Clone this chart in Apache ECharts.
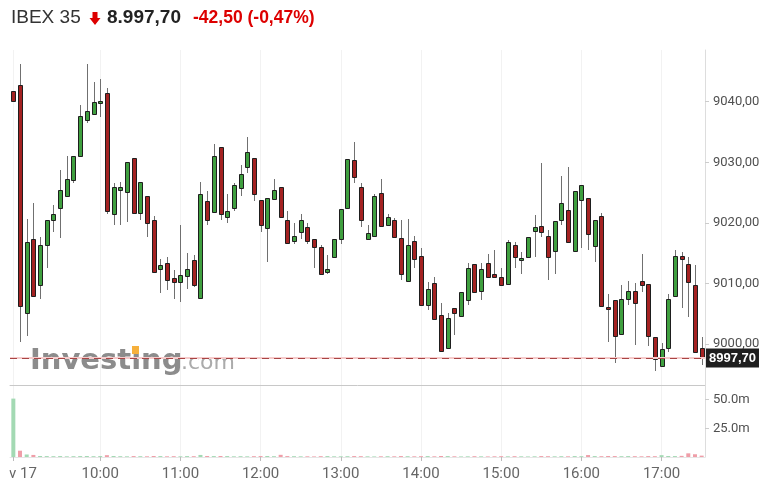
<!DOCTYPE html>
<html>
<head>
<meta charset="utf-8">
<script src="https://cdn.jsdelivr.net/npm/echarts@6.0.0/dist/echarts.min.js"></script>
<style>html,body{margin:0;padding:0;background:#fff}#c{width:778px;height:499px}</style>
</head>
<body>
<div id="c"></div>
<script>
// ---- data ----
const categories = ["08:55",
 "09:00","09:05","09:10","09:15","09:20","09:25","09:30","09:35","09:40","09:45","09:50","09:55",
 "10:00","10:05","10:10","10:15","10:20","10:25","10:30","10:35","10:40","10:45","10:50","10:55",
 "11:00","11:05","11:10","11:15","11:20","11:25","11:30","11:35","11:40","11:45","11:50","11:55",
 "12:00","12:05","12:10","12:15","12:20","12:25","12:30","12:35","12:40","12:45","12:50","12:55",
 "13:00","13:05","13:10","13:15","13:20","13:25","13:30","13:35","13:40","13:45","13:50","13:55",
 "14:00","14:05","14:10","14:15","14:20","14:25","14:30","14:35","14:40","14:45","14:50","14:55",
 "15:00","15:05","15:10","15:15","15:20","15:25","15:30","15:35","15:40","15:45","15:50","15:55",
 "16:00","16:05","16:10","16:15","16:20","16:25","16:30","16:35","16:40","16:45","16:50","16:55",
 "17:00","17:05","17:10","17:15","17:20","17:25","17:30"];

const opens = [9041.8,9042.8,9005.2,9017.3,9009.8,9016.4,9020.5,9022.4,9024.4,9027.1,
 9031.0,9037.0,9038.0,9039.8,9041.4,9021.5,9025.5,9025.1,9030.7,9021.7,
 9024.5,9020.4,9012.3,9013.4,9010.9,9010.3,9011.3,9013.8,9007.6,9023.6,
 9021.8,9032.6,9021.0,9022.4,9025.7,9029.2,9030.7,9023.7,9019.1,9024.0,
 9026.0,9020.4,9017.0,9018.5,9019.3,9017.3,9016.0,9011.9,9014.4,9017.4,
 9022.4,9030.3,9026.0,9017.4,9017.9,9024.9,9019.6,9020.4,9017.5,9010.4,
 9017.0,9014.5,9006.5,9010.1,9004.8,8999.3,9006.0,9004.7,9007.2,9013.2,
 9008.8,9013.4,9011.5,9011.1,9009.9,9016.4,9013.8,9014.4,9018.7,9019.5,
 9017.8,9015.4,9020.5,9022.2,9015.4,9023.8,9024.1,9016.2,9021.1,9006.1,
 9007.2,9001.6,9007.5,9008.7,9010.4,9009.9,9001.2,8996.4,8999.3,9008.0,
 9014.5,9013.2,9009.7,8999.4];
const closes = [9040.1,9006.3,9016.9,9008.0,9016.3,9020.4,9021.4,9025.4,9027.2,9031.1,
 9037.6,9038.4,9040.0,9040.1,9022.0,9025.9,9026.0,9030.0,9021.7,9026.7,
 9019.9,9011.9,9013.1,9010.5,9010.3,9011.4,9012.4,9009.7,9024.7,9020.5,
 9031.1,9021.4,9022.0,9026.2,9028.0,9031.7,9024.7,9019.7,9024.1,9025.4,
 9021.0,9016.6,9017.8,9020.4,9017.0,9016.0,9011.5,9012.3,9017.3,9022.3,
 9030.5,9027.6,9020.4,9018.3,9024.4,9019.5,9021.0,9017.7,9011.6,9016.4,
 9014.0,9006.5,9009.1,9004.2,8998.9,9004.3,9005.1,9008.6,9012.6,9008.6,
 9012.4,9011.1,9011.0,9009.7,9016.9,9014.4,9014.2,9017.7,9019.3,9018.5,
 9014.4,9020.3,9023.3,9016.9,9025.3,9026.2,9018.2,9020.5,9006.3,9005.7,
 9001.4,9007.4,9008.7,9006.7,9009.8,9001.4,8997.5,8999.1,9007.4,9014.5,
 9014.0,9010.3,8998.6,8997.7];
const lows = [9040.1,9000.4,9001.4,9008.0,9007.4,9012.6,9018.5,9017.5,9024.4,9026.6,
 9031.0,9036.5,9038.0,9037.4,9021.4,9019.6,9019.6,9020.1,9021.7,9020.4,
 9017.6,9011.9,9008.5,9008.9,9007.5,9007.0,9009.0,9009.4,9007.5,9019.6,
 9021.8,9020.4,9020.0,9022.0,9024.5,9028.3,9023.6,9018.5,9013.6,9024.0,
 9021.0,9016.6,9016.5,9017.4,9016.5,9012.6,9011.5,9011.5,9014.4,9016.5,
 9022.4,9026.6,9019.3,9017.4,9017.9,9019.5,9019.6,9017.7,9010.5,9010.4,
 9012.6,9006.5,9005.6,9004.2,8998.7,8999.3,9001.5,9004.7,9006.4,9008.6,
 9007.2,9011.1,9011.0,9009.7,9009.9,9012.6,9011.5,9014.4,9014.3,9017.6,
 9010.5,9011.6,9019.6,9016.9,9015.4,9015.8,9015.5,9013.5,9006.3,9000.4,
 8996.8,9001.6,9006.5,8999.8,9008.6,8999.6,8995.6,8996.4,8998.7,9008.0,
 9006.0,9004.5,8998.6,8996.5];
const highs = [9041.8,9046.2,9020.7,9023.2,9017.7,9020.4,9022.9,9028.8,9031.0,9031.1,
 9039.5,9046.2,9043.3,9043.8,9042.3,9026.6,9026.7,9030.0,9030.7,9026.7,
 9024.5,9021.1,9014.0,9014.4,9012.2,9019.7,9015.1,9014.7,9026.7,9025.3,
 9033.1,9032.6,9024.8,9026.6,9029.6,9034.1,9030.7,9023.7,9024.1,9027.3,
 9026.0,9022.0,9019.9,9021.4,9020.0,9017.3,9016.3,9014.7,9017.3,9022.3,
 9030.5,9033.3,9026.5,9019.7,9024.7,9027.3,9021.4,9020.8,9020.4,9020.7,
 9017.8,9015.8,9010.3,9011.1,9006.7,9005.1,9006.0,9008.6,9013.3,9013.2,
 9013.3,9014.9,9015.6,9012.5,9017.1,9016.9,9015.2,9017.7,9021.3,9029.9,
 9018.8,9020.3,9027.7,9029.3,9025.3,9026.2,9024.1,9020.5,9021.6,9008.2,
 9007.2,9009.7,9010.4,9010.0,9014.8,9009.9,9001.2,9000.1,9008.2,9015.5,
 9015.2,9014.3,9013.0,9001.2];
const volumes = [51,5.5,2.2,1.8,0.9,0.8,0.7,0.8,0.6,0.7,
 0.8,0.9,0.7,0.8,1.6,0.9,0.7,0.6,0.8,0.7,
 0.6,0.9,0.8,0.6,0.7,0.6,0.8,0.7,1.8,0.9,
 0.8,0.9,0.8,0.6,0.7,0.6,0.7,0.8,0.9,0.7,
 1.9,0.8,0.7,0.6,0.6,0.5,0.7,0.8,0.6,0.6,
 0.7,0.8,0.7,0.6,0.5,0.6,0.7,0.6,0.8,0.7,
 0.6,0.7,0.8,0.6,0.9,0.8,0.6,0.5,0.6,0.7,
 0.6,0.5,0.6,0.7,0.6,0.7,0.6,0.5,0.6,0.8,
 0.7,0.6,0.7,0.6,0.8,0.7,1.7,0.8,0.7,0.9,
 0.8,0.7,0.8,0.7,0.6,0.8,0.7,1.6,0.9,0.8,
 1.0,3.2,2.4,1.2];

const xTickCats  = ["08:55","10:00","11:00","12:00","13:00","14:00","15:00","16:00","17:00"];
const xTickTexts = ["Nov 17","10:00","11:00","12:00","13:00","14:00","15:00","16:00","17:00"];
const priceTicks = [9000, 9010, 9020, 9030, 9040];
const volumeTicks = [25, 50];

const titleName = "IBEX 35";
const titlePrice = "8.997,70";
const titleChange = "-42,50 (-0,47%)";
const lastPrice = closes[closes.length - 1];

// ---- chart ----
const chart = echarts.init(document.getElementById('c'), null, {renderer: 'canvas'});
const isTick = (idx, val) => xTickCats.indexOf(val) >= 0;
const fmtComma = v => v.toFixed(2).replace('.', ',');

function renderCandle(params, api) {
  const i = api.value(0);
  const o = api.value(1), c = api.value(2), l = api.value(3), h = api.value(4);
  const pO = api.coord([i, o]), pC = api.coord([i, c]);
  const pL = api.coord([i, l]), pH = api.coord([i, h]);
  const cx = Math.round(pO[0]);
  const up = c >= o;
  let yTop = Math.round(Math.min(pO[1], pC[1]));
  let yBot = Math.round(Math.max(pO[1], pC[1]));
  if (yBot - yTop < 2) yBot = yTop + 2;
  return {
    type: 'group',
    children: [
      {type: 'line', shape: {x1: cx + 0.5, y1: Math.round(pH[1]), x2: cx + 0.5, y2: Math.round(pL[1])},
       style: {stroke: '#707070', lineWidth: 1}},
      {type: 'rect', shape: {x: cx - 1.5, y: yTop + 0.5, width: 4, height: yBot - yTop},
       style: {fill: up ? '#3f9f3f' : '#a42222', stroke: '#1e1e1e', lineWidth: 1}}
    ]
  };
}

const candleData = opens.map((o, i) => [i, o, closes[i], lows[i], highs[i]]);
const volData = volumes.map((v, i) => ({
  value: v,
  itemStyle: {color: (i === 0 || closes[i] >= opens[i]) ? '#a3d9b3' : '#ef9ea8'}
}));

const option = {
  animation: false,
  backgroundColor: '#ffffff',
  grid: [
    {left: 10, right: 73, top: 50, height: 335, outerBoundsMode: 'none', containLabel: false},
    {left: 10, right: 73, top: 386, height: 71, outerBoundsMode: 'none', containLabel: false}
  ],
  xAxis: [
    {type: 'category', gridIndex: 0, data: categories, boundaryGap: true,
     axisLine: {show: true, lineStyle: {color: '#c8c8c8', width: 1}},
     axisTick: {show: false}, axisLabel: {show: false},
     splitLine: {show: true, interval: isTick, alignWithLabel: true, lineStyle: {color: '#f2f2f2'}}},
    {type: 'category', gridIndex: 1, data: categories, boundaryGap: true,
     axisLine: {show: true, lineStyle: {color: '#e6e6e6'}},
     axisTick: {show: true, alignWithLabel: true, interval: isTick, length: 4, lineStyle: {color: '#bbbbbb'}},
     axisLabel: {show: true, interval: isTick, margin: 10,
       formatter: v => xTickTexts[xTickCats.indexOf(v)],
       fontFamily: 'Roboto', fontSize: 15, color: '#666666'},
     splitLine: {show: true, interval: isTick, alignWithLabel: true, lineStyle: {color: '#f2f2f2'}}}
  ],
  yAxis: [
    {type: 'value', gridIndex: 0, position: 'right', min: 8993.23, max: 9048.54,
     axisLine: {show: true, lineStyle: {color: '#dddddd'}},
     axisTick: {show: true, customValues: priceTicks, length: 4, lineStyle: {color: '#cccccc'}},
     axisLabel: {show: true, customValues: priceTicks, margin: 8, formatter: fmtComma,
       fontFamily: 'Roboto', fontSize: 13, color: '#505050'},
     splitLine: {show: false}},
    {type: 'value', gridIndex: 1, position: 'right', min: 0, max: 62,
     axisLine: {show: true, lineStyle: {color: '#dddddd'}},
     axisTick: {show: true, customValues: volumeTicks, length: 4, lineStyle: {color: '#cccccc'}},
     axisLabel: {show: true, customValues: volumeTicks, margin: 8, formatter: v => v.toFixed(1) + 'm',
       fontFamily: 'Roboto', fontSize: 13, color: '#505050'},
     splitLine: {show: false}}
  ],
  series: [
    {type: 'custom', name: 'IBEX 35', xAxisIndex: 0, yAxisIndex: 0, clip: true,
     renderItem: renderCandle, data: candleData,
     encode: {x: 0, y: [1, 2, 3, 4]}, z: 3,
     markLine: {
       silent: true, symbol: ['none', 'none'], animation: false,
       data: [
         {yAxis: lastPrice, lineStyle: {color: '#f6cccc', width: 2, type: 'solid'}, label: {show: false}},
         {yAxis: lastPrice, lineStyle: {color: '#a84444', width: 1, type: [7, 5]},
          label: {show: true, position: 'end', distance: 1, formatter: fmtComma(lastPrice),
            backgroundColor: '#1e1e1e', color: '#ffffff', fontWeight: 'bold',
            fontFamily: 'Arial', fontSize: 13, lineHeight: 13, padding: [3, 3, 3, 3]}}
       ]
     }},
    {type: 'bar', name: 'Volume', xAxisIndex: 1, yAxisIndex: 1, barWidth: 4, data: volData}
  ],
  graphic: [
    {type: 'text', x: 11, y: 18, z: 10, style: {text: titleName, font: '19px Arial', fill: '#333333', verticalAlign: 'middle'}},
    {type: 'polygon', z: 10, shape: {points: [[92.5,12],[97.5,12],[97.5,18],[100.5,18],[95,25],[89.5,18],[92.5,18]]}, style: {fill: '#dd0000'}},
    {type: 'text', x: 107, y: 18, z: 10, style: {text: titlePrice, font: 'bold 19px Arial', fill: '#222222', verticalAlign: 'middle'}},
    {type: 'text', x: 193, y: 18, z: 10, style: {text: titleChange, font: 'bold 17.5px Arial', fill: '#dd0000', verticalAlign: 'middle'}},
    {type: 'text', x: 30, y: 361, z: 1, style: {text: 'Investing', font: 'bold 29px "DejaVu Sans"', fill: '#8c8c8c', verticalAlign: 'middle'}},
    {type: 'text', x: 181, y: 363, z: 1, style: {text: '.com', font: '22px "DejaVu Sans"', fill: '#ababab', verticalAlign: 'middle'}},
    {type: 'rect', z: 2, shape: {x: 132, y: 346, width: 7, height: 8}, style: {fill: '#f6b03c'}},
    {type: 'rect', z: 100, shape: {x: 0, y: 461, width: 9.5, height: 30}, style: {fill: '#ffffff'}}
  ]
};
chart.setOption(option);
</script>
</body>
</html>
